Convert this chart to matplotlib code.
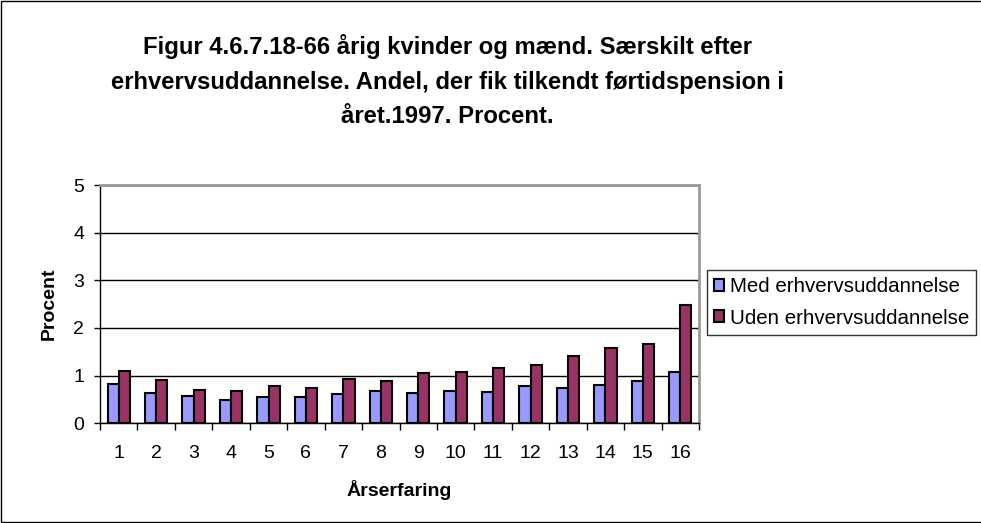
import numpy as np
import matplotlib.pyplot as plt
from matplotlib.patches import Rectangle

plt.rcParams['font.family'] = ['Liberation Sans', 'DejaVu Sans']

# data
years = [str(i) for i in range(1, 17)]
med = [0.82, 0.63, 0.58, 0.49, 0.55, 0.55, 0.61, 0.68, 0.63, 0.67, 0.66, 0.77, 0.73, 0.81, 0.88, 1.07]
uden = [1.10, 0.90, 0.69, 0.68, 0.78, 0.73, 0.92, 0.88, 1.06, 1.08, 1.16, 1.22, 1.41, 1.57, 1.67, 2.48]

fig = plt.figure(figsize=(9.81, 5.23), dpi=100)
ax = fig.add_axes([0.102, 0.191, 0.6105, 0.455])

x = np.arange(len(years))
w = 0.3
ax.bar(x - w / 2, med, w, color='#9999FF', edgecolor='black', linewidth=1.5,
       label='Med erhvervsuddannelse', zorder=3)
ax.bar(x + w / 2, uden, w, color='#993366', edgecolor='black', linewidth=1.5,
       label='Uden erhvervsuddannelse', zorder=3)

ax.set_xlim(-0.5, len(years) - 0.5)
ax.set_ylim(0, 5)
ax.set_yticks(range(6))
ax.set_xticks(x)
ax.set_xticklabels(years)
ax.set_xticks(np.arange(-0.5, len(years), 1), minor=True)
ax.tick_params(axis='x', which='major', length=0, pad=16, labelsize=14)
ax.tick_params(axis='x', which='minor', length=5, direction='out', width=1)
ax.tick_params(axis='y', length=4.5, width=1, pad=7, labelsize=14)

ax.yaxis.grid(True, color='black', linewidth=1, zorder=0)
for s in ['top', 'right']:
    ax.spines[s].set_color('#999999')
    ax.spines[s].set_linewidth(2)
for s in ['left', 'bottom']:
    ax.spines[s].set_color('black')
    ax.spines[s].set_linewidth(1)

ax.set_xlabel('Årserfaring', fontweight='bold', fontsize=14, labelpad=13)
ax.set_ylabel('Procent', fontweight='bold', fontsize=14, labelpad=11)

fig.text(0.456, 0.845,
         'Figur 4.6.7.18-66 årig kvinder og mænd. Særskilt efter\n'
         'erhvervsuddannelse. Andel, der fik tilkendt førtidspension i\n'
         'året.1997. Procent.',
         ha='center', va='center', fontsize=17.2, fontweight='bold', linespacing=1.62)

leg = ax.legend(loc='upper left', bbox_to_anchor=(0.7207, 0.4837),
                bbox_transform=fig.transFigure, frameon=True, fancybox=False,
                edgecolor='black', fontsize=14.8, handlelength=0.5, handleheight=0.5,
                handletextpad=0.25, borderaxespad=0, borderpad=0.35, labelspacing=0.6)
leg.get_frame().set_linewidth(1)

fig.patches.append(Rectangle((0.001, 0.001), 1.2, 0.997, transform=fig.transFigure,
                             fill=False, edgecolor='black', linewidth=1))

fig.savefig('out.png', dpi=100)
